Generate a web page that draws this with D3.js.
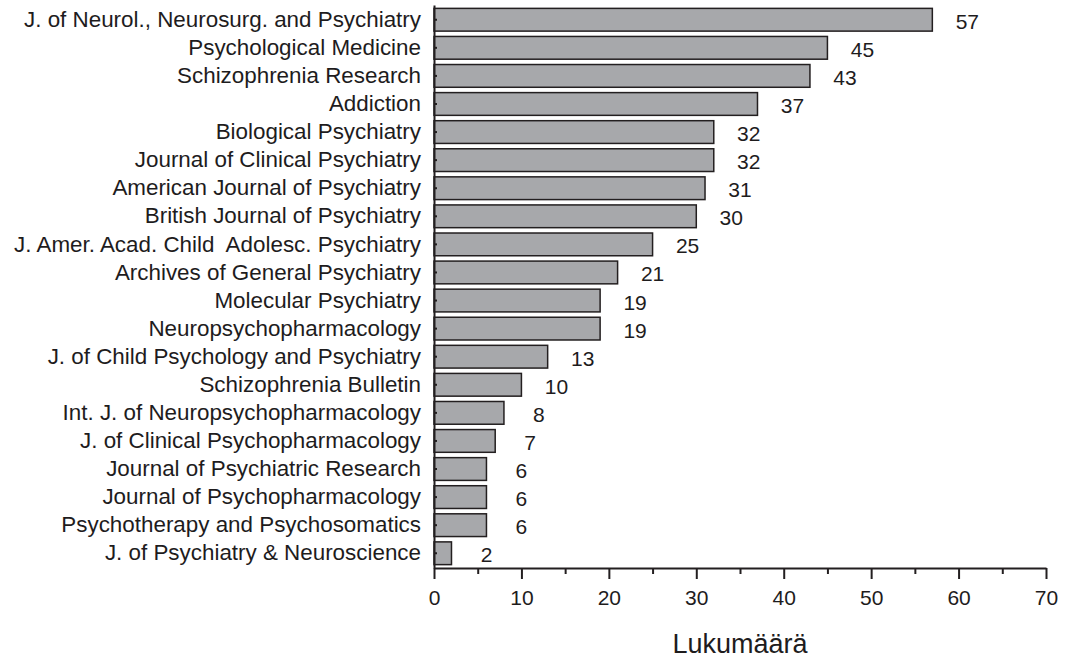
<!DOCTYPE html>
<html>
<head>
	<title>Lehdet</title>
	<meta charset="UTF-8">
	<style>
		body { margin: 0; background: #fff; }
		svg { display: block; font-family: "Liberation Sans", Arial, sans-serif; }
		text { white-space: pre; }
		.bar { fill: #a7a8ab; stroke: #231f20; stroke-width: 1.5; }
		.axis path, .axis line { stroke: #231f20; stroke-width: 2; }
		.axis text { fill: #1e1c1d; }
	</style>
</head>
<body>
<script src="https://d3js.org/d3.v7.min.js"></script>
<script type="text/javascript">

'use strict';

var journals = [
	"J. of Neurol., Neurosurg. and Psychiatry",
	"Psychological Medicine",
	"Schizophrenia Research",
	"Addiction",
	"Biological Psychiatry",
	"Journal of Clinical Psychiatry",
	"American Journal of Psychiatry",
	"British Journal of Psychiatry",
	"J. Amer. Acad. Child  Adolesc. Psychiatry",
	"Archives of General Psychiatry",
	"Molecular Psychiatry",
	"Neuropsychopharmacology",
	"J. of Child Psychology and Psychiatry",
	"Schizophrenia Bulletin",
	"Int. J. of Neuropsychopharmacology",
	"J. of Clinical Psychopharmacology",
	"Journal of Psychiatric Research",
	"Journal of Psychopharmacology",
	"Psychotherapy and Psychosomatics",
	"J. of Psychiatry & Neuroscience"
];
var counts = [57, 45, 43, 37, 32, 32, 31, 30, 25, 21, 19, 19, 13, 10, 8, 7, 6, 6, 6, 2];
var majorTicks = [0, 10, 20, 30, 40, 50, 60, 70];
var minorTicks = [5, 15, 25, 35, 45, 55, 65];
var axisTitle = "Lukumäärä";

var svg = d3.select("body").append("svg")
	.attr("width", 1067)
	.attr("height", 660);

var x = d3.scaleLinear()
	.domain([0, 70])
	.range([434, 1046]);

var y = d3.scaleBand()
	.domain(journals)
	.range([5, 568])
	.paddingInner(0.19)
	.paddingOuter(0.12);

var rows = journals.map(function(d, i){ return {name: d, value: counts[i]}; });

// bars
svg.append("g")
	.selectAll("rect")
	.data(rows)
	.enter().append("rect")
		.attr("class", "bar")
		.attr("x", x(0))
		.attr("y", function(d){ return y(d.name); })
		.attr("width", function(d){ return x(d.value) - x(0); })
		.attr("height", y.bandwidth());

// value labels
svg.append("g")
	.selectAll("text")
	.data(rows)
	.enter().append("text")
		.attr("x", function(d){ return x(d.value) + 35; })
		.attr("y", function(d){ return y(d.name) + y.bandwidth() / 2 + 9; })
		.attr("text-anchor", "middle")
		.attr("font-size", "21px")
		.attr("fill", "#1e1c1d")
		.text(function(d){ return d.value; });

// x axis: minor then major ticks
svg.append("g")
	.attr("class", "axis")
	.attr("transform", "translate(0," + 568 + ")")
	.call(d3.axisBottom(x).tickValues(minorTicks).tickSize(6).tickFormat(""))
	.call(function(g){ g.select(".domain").remove(); });

svg.append("g")
	.attr("class", "axis")
	.attr("transform", "translate(0," + 568 + ")")
	.call(d3.axisBottom(x).tickValues(majorTicks).tickSizeInner(11).tickSizeOuter(0).tickPadding(11))
	.call(function(g){ g.selectAll("text").attr("font-size", "21px").attr("font-family", null); });

// y axis with small inward ticks
svg.append("g")
	.attr("class", "axis")
	.attr("transform", "translate(" + 434 + ",0)")
	.call(d3.axisLeft(y).tickSizeInner(-3).tickSizeOuter(0).tickPadding(13))
	.call(function(g){ g.selectAll("text").attr("font-size", "22.4px").attr("font-family", null); });

svg.append("text")
	.attr("x", (x(0) + x(70)) / 2)
	.attr("y", 653)
	.attr("text-anchor", "middle")
	.attr("font-size", "27px")
	.attr("fill", "#1e1c1d")
	.text(axisTitle);

</script>
</body>
</html>
